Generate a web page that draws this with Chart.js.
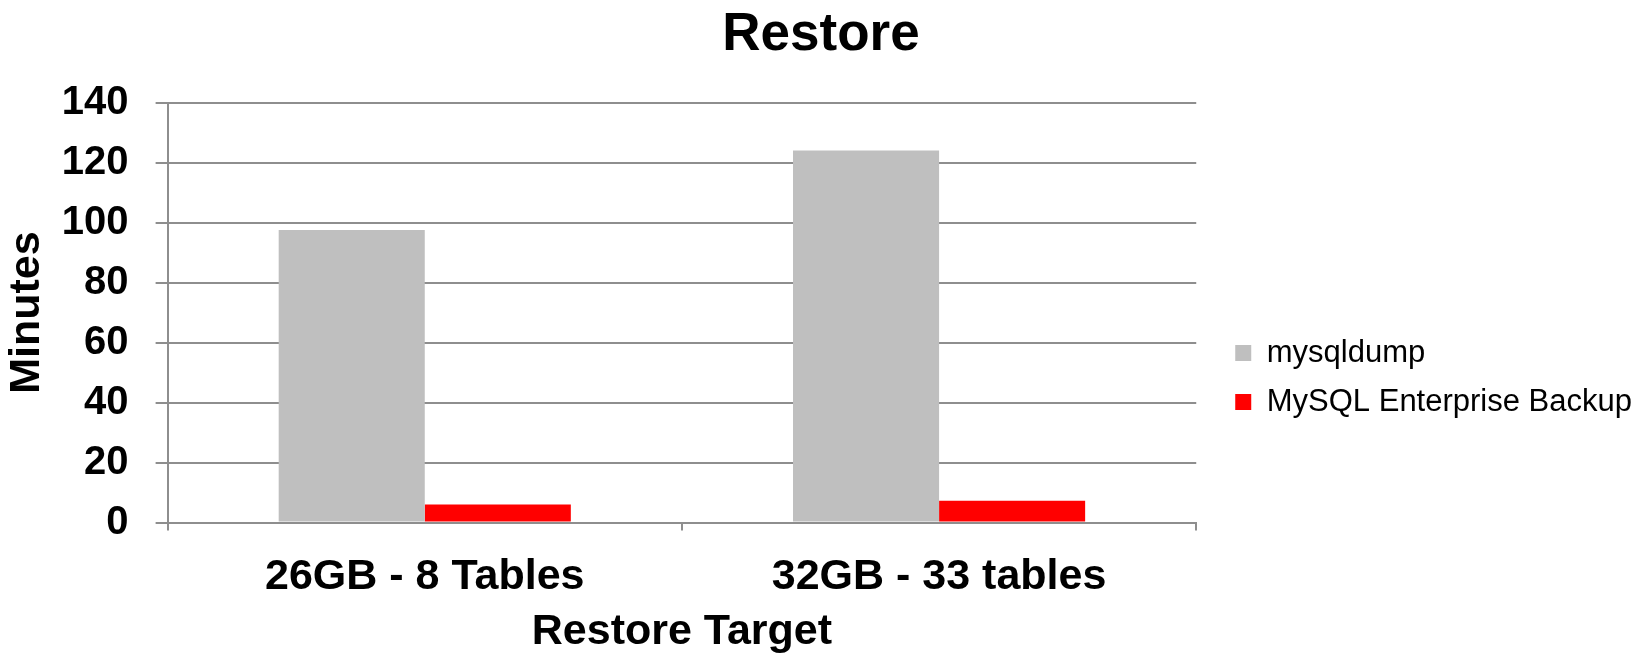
<!DOCTYPE html>
<html>
<head>
<meta charset="utf-8">
<title>Restore</title>
<script src="https://cdn.jsdelivr.net/npm/chart.js@4.4.1/dist/chart.umd.min.js"></script>
<style>
    html, body { margin: 0; padding: 0; background: #fff; }
    #wadah { width: 1642px; height: 654px; }
</style>
</head>
<body>
<div id="wadah"><canvas id="grafikRestore"></canvas></div>
<script>
const kategori = ['26GB - 8 Tables', '32GB - 33 tables'];
const dataMysqldump = [97.5, 124];
const dataEnterprise = [6, 7.3];
const labelSeri = ['mysqldump', 'MySQL Enterprise Backup'];
const warnaSeri = ['#bfbfbf', '#ff0000'];

const huruf = "'Liberation Sans', Arial, sans-serif";
const warnaGaris = '#8e8e8e';

Chart.defaults.font.family = huruf;
Chart.defaults.color = '#000';

new Chart(document.getElementById('grafikRestore'), {
    type: 'bar',
    data: {
        labels: kategori,
        datasets: [{
            label: labelSeri[0],
            data: dataMysqldump,
            backgroundColor: warnaSeri[0],
            categoryPercentage: 0.568,
            barPercentage: 1
        }, {
            label: labelSeri[1],
            data: dataEnterprise,
            backgroundColor: warnaSeri[1],
            categoryPercentage: 0.568,
            barPercentage: 1
        }]
    },
    options: {
        responsive: true,
        maintainAspectRatio: false,
        animation: false,
        layout: { padding: 0 },
        plugins: {
            title: {
                display: true,
                text: 'Restore',
                color: '#000',
                font: { size: 53, weight: 'bold', lineHeight: 1 },
                padding: { top: 8.5, bottom: 41 }
            },
            legend: {
                position: 'right',
                align: 'center',
                maxWidth: 600,
                title: {
                    display: true,
                    text: '',
                    font: { size: 1, lineHeight: 1 },
                    padding: { top: 100, bottom: 0 }
                },
                labels: {
                    boxWidth: 16,
                    boxHeight: 16,
                    padding: 18,
                    color: '#000',
                    font: { size: 31, lineHeight: 1 }
                }
            },
            tooltip: { enabled: false }
        },
        scales: {
            x: {
                grid: {
                    display: true,
                    drawOnChartArea: false,
                    drawTicks: true,
                    tickLength: 8,
                    color: warnaGaris,
                    lineWidth: 2
                },
                border: { display: true, color: warnaGaris, width: 2 },
                ticks: {
                    padding: 25,
                    color: '#000',
                    font: { size: 43, weight: 'bold', lineHeight: 1 }
                },
                title: {
                    display: true,
                    text: 'Restore Target',
                    color: '#000',
                    font: { size: 43, weight: 'bold', lineHeight: 1 },
                    padding: { top: 0, bottom: 0.5 }
                },
                afterFit: function (skala) {
                    skala.height = 131.4;
                }
            },
            y: {
                min: 0,
                max: 140,
                grid: {
                    color: warnaGaris,
                    lineWidth: 2,
                    tickLength: 12
                },
                border: { display: true, color: warnaGaris, width: 2 },
                ticks: {
                    stepSize: 20,
                    padding: 27,
                    color: '#000',
                    font: { size: 40, weight: 'bold', lineHeight: 1 }
                },
                title: {
                    display: true,
                    text: 'Minutes',
                    color: '#000',
                    font: { size: 43, weight: 'bold', lineHeight: 1 },
                    padding: { top: 6, bottom: 0 }
                },
                afterFit: function (skala) {
                    skala.width = 167.6;
                }
            },
            jarakKanan: {
                type: 'linear',
                position: 'right',
                display: true,
                grid: { display: false },
                border: { display: false },
                ticks: { display: false },
                afterFit: function (skala) {
                    skala.width = 21;
                }
            }
        }
    }
});
</script>
</body>
</html>
